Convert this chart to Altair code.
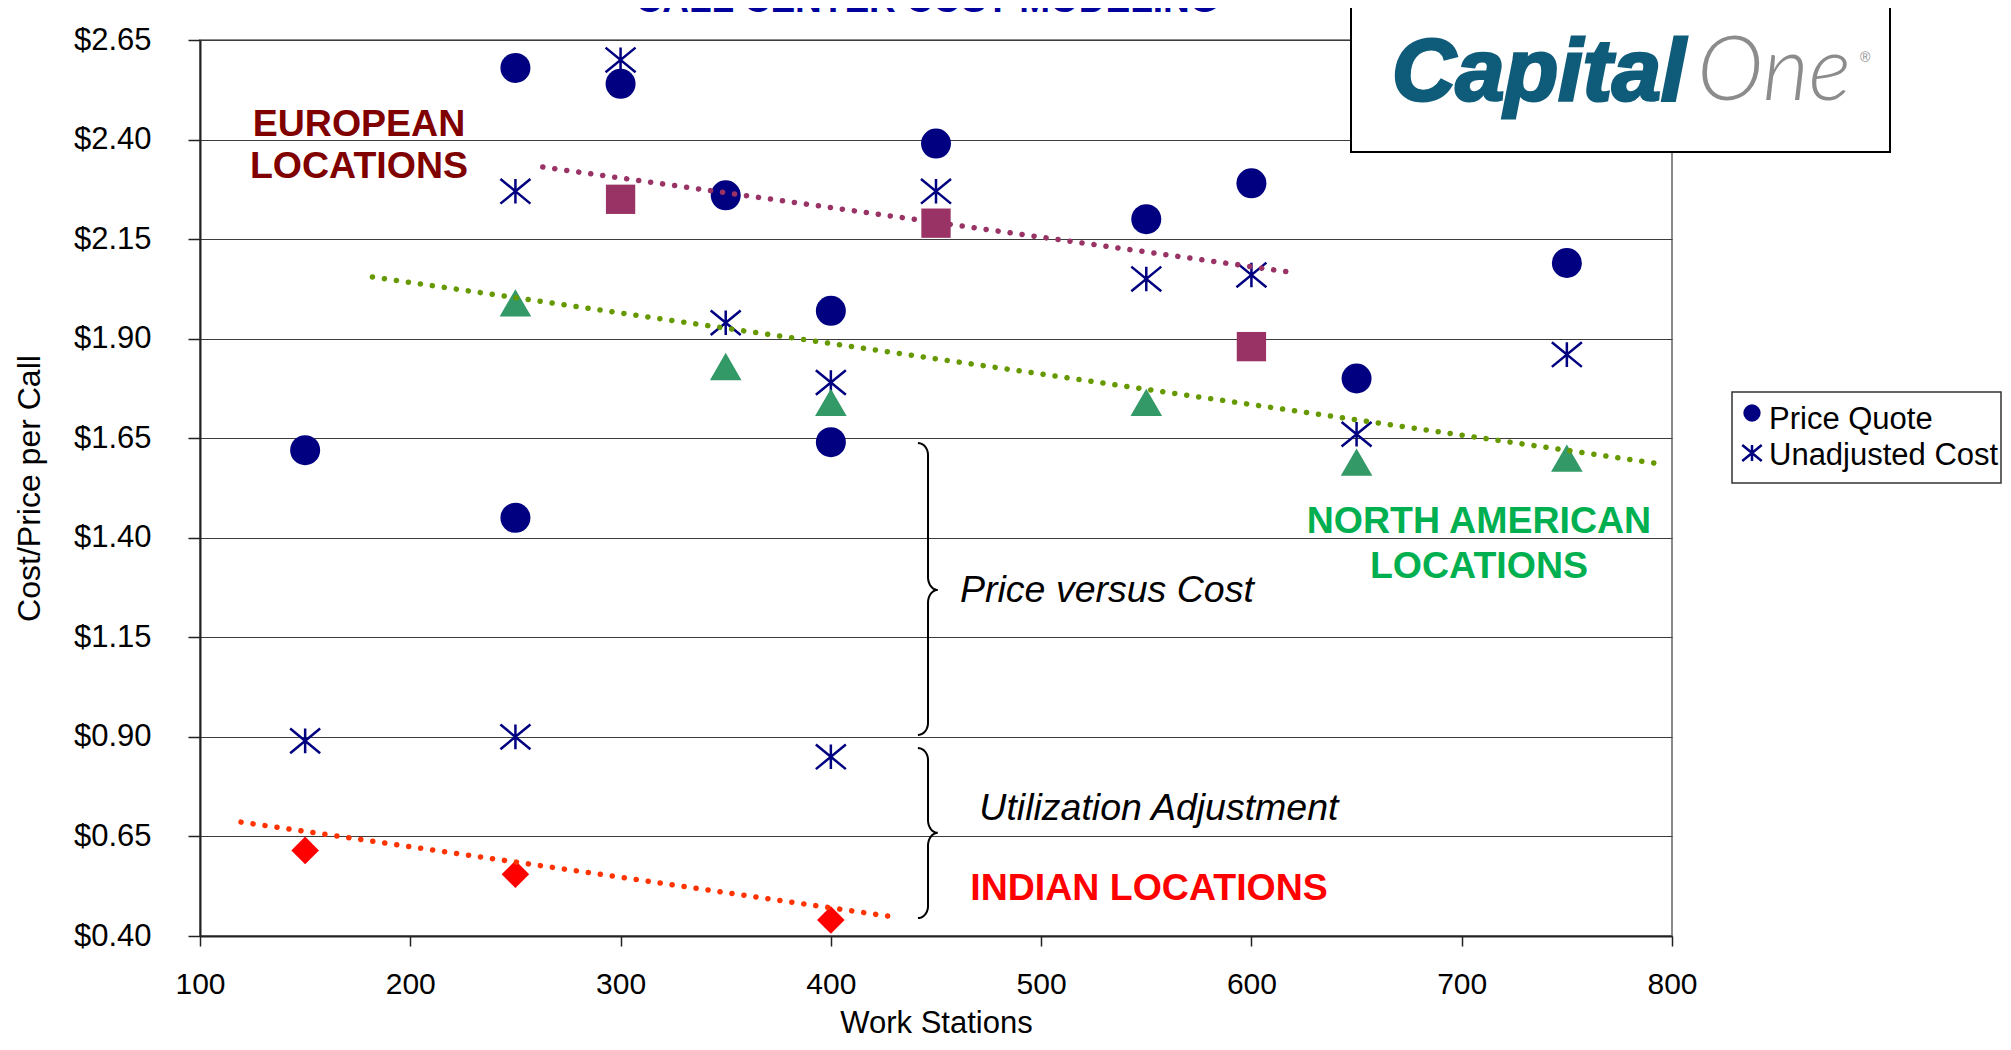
import math
import altair as alt
import pandas as pd

# ---------------- data ----------------
x_ticks = [100, 200, 300, 400, 500, 600, 700, 800]
y_ticks = [0.40, 0.65, 0.90, 1.15, 1.40, 1.65, 1.90, 2.15, 2.40, 2.65]

price_x = [150, 250, 250, 300, 350, 400, 400, 450, 550, 600, 650, 750]
price_y = [1.62, 2.58, 1.45, 2.54, 2.26, 1.97, 1.64, 2.39, 2.20, 2.29, 1.80, 2.09]

cost_x = [150, 250, 250, 300, 350, 400, 400, 450, 550, 600, 650, 750]
cost_y = [0.89, 2.27, 0.90, 2.60, 1.94, 1.79, 0.85, 2.27, 2.05, 2.06, 1.66, 1.86]

eu_x = [300, 450, 600]
eu_y = [2.25, 2.19, 1.88]

na_x = [250, 350, 400, 550, 650, 750]
na_y = [1.99, 1.83, 1.74, 1.74, 1.59, 1.60]

in_x = [150, 250, 400]
in_y = [0.615, 0.555, 0.44]

# dotted trend lines (end points)
eu_trend_x = [263, 621]
eu_trend_y = [2.331, 2.065]
na_trend_x = [182, 795]
na_trend_y = [2.055, 1.585]
in_trend_x = [119.5, 427]
in_trend_y = [0.686, 0.450]

# braces: x of stem / hook / tip, y of top / middle / bottom
brace_x = [446.2, 441.4, 450.8]
brace1_y = [1.638, 1.269, 0.905]
brace2_y = [0.872, 0.659, 0.445]

# annotations
ann_bold_text = ["EUROPEAN", "LOCATIONS", "NORTH AMERICAN", "LOCATIONS", "INDIAN LOCATIONS"]
ann_bold_x = [175.6, 175.6, 708.2, 708.2, 551.3]
ann_bold_y = [2.410, 2.303, 1.412, 1.299, 0.490]
ann_bold_col = ["#800000", "#800000", "#00B050", "#00B050", "#FF0000"]

ann_it_text = ["Price versus Cost", "Utilization Adjustment"]
ann_it_x = [531.3, 556.0]
ann_it_y = [1.239, 0.691]

legend_labels = ["Price Quote", "Unadjusted Cost"]

FONT = "Liberation Sans, Arial"
NAVY = "#000080"
ASTER = "M0,-0.82L0,0.82M-1,-0.82L1,0.82M-1,0.82L1,-0.82"

# ---------------- tables ----------------
price_df = pd.DataFrame({"ws": price_x, "val": price_y})
cost_df = pd.DataFrame({"ws": cost_x, "val": cost_y})
eu_df = pd.DataFrame({"ws": eu_x, "val": eu_y})
na_df = pd.DataFrame({"ws": na_x, "val": na_y})
in_df = pd.DataFrame({"ws": in_x, "val": in_y})

trend_df = pd.DataFrame({
    "ws": eu_trend_x + na_trend_x + in_trend_x,
    "val": eu_trend_y + na_trend_y + in_trend_y,
    "grp": ["eu"] * 2 + ["na"] * 2 + ["in"] * 2,
})


def brace_points(bx, by, bid, ry_end=0.030, ry_mid=0.032, n=10):
    xv, xl, xr = bx
    ytop, ymid, ybot = by
    rl = xv - xl
    rr = xr - xv
    pts = []
    for k in range(n + 1):
        t = math.pi / 2 * k / n
        pts.append((xl + rl * math.sin(t), ytop - ry_end + ry_end * math.cos(t)))
    for k in range(n + 1):
        t = math.pi / 2 * k / n
        pts.append((xr - rr * math.cos(t), ymid + ry_mid - ry_mid * math.sin(t)))
    for k in range(n, -1, -1):
        t = math.pi / 2 * k / n
        pts.append((xr - rr * math.cos(t), ymid - ry_mid + ry_mid * math.sin(t)))
    for k in range(n, -1, -1):
        t = math.pi / 2 * k / n
        pts.append((xl + rl * math.sin(t), ybot + ry_end - ry_end * math.cos(t)))
    return [{"ws": p[0], "val": p[1], "i": j, "b": bid} for j, p in enumerate(pts)]


brace_df = pd.DataFrame(brace_points(brace_x, brace1_y, 1) + brace_points(brace_x, brace2_y, 2))

bold_df = pd.DataFrame({"ws": ann_bold_x, "val": ann_bold_y, "t": ann_bold_text, "c": ann_bold_col})
it_df = pd.DataFrame({"ws": ann_it_x, "val": ann_it_y, "t": ann_it_text})
one_df = pd.DataFrame({"a": [0]})

# ---------------- encodings ----------------
xs = alt.Scale(domain=[100, 800], nice=False, zero=False)
ys = alt.Scale(domain=[0.40, 2.65], nice=False, zero=False)

X = alt.X("ws:Q", scale=xs, axis=alt.Axis(
    values=x_ticks, format="d", title="Work Stations", grid=False,
    labelFont=FONT, labelFontSize=30, labelColor="black", labelPadding=23,
    tickSize=10, tickColor="#222", tickWidth=1.5, domainColor="#222", domainWidth=2,
    titleFont=FONT, titleFontSize=31, titleFontWeight="normal", titleColor="black",
    titlePadding=9, labelFlush=False))
Y = alt.Y("val:Q", scale=ys, axis=alt.Axis(
    values=y_ticks, format="$.2f", title="Cost/Price per Call", grid=True,
    gridColor="#3c3c3c", gridWidth=1,
    labelFont=FONT, labelFontSize=31, labelColor="black", labelPadding=37,
    tickSize=12, tickColor="#222", tickWidth=1.5, domainColor="#222", domainWidth=2,
    titleFont=FONT, titleFontSize=32, titleFontWeight="normal", titleColor="black",
    titlePadding=27, labelFlush=False))

price = alt.Chart(price_df).mark_point(
    filled=True, shape="circle", size=900, color=NAVY, opacity=1).encode(x=X, y=Y)
cost = alt.Chart(cost_df).mark_point(
    filled=False, shape=ASTER, size=900, color=NAVY, strokeWidth=2.5, opacity=1).encode(x=X, y=Y)
eu = alt.Chart(eu_df).mark_point(filled=True, shape="square", size=860, color="#993366", opacity=1).encode(x=X, y=Y)
na = alt.Chart(na_df).mark_point(filled=True, shape="triangle-up", size=1000, color="#339966", opacity=1).encode(x=X, y=Y)
ind = alt.Chart(in_df).mark_point(filled=True, shape="diamond", size=760, color="#FF0000", opacity=1).encode(x=X, y=Y)

trend = alt.Chart(trend_df).mark_line(strokeDash=[0.1, 12], strokeCap="round", strokeWidth=5.5).encode(
    x=X, y=Y,
    color=alt.Color("grp:N", scale=alt.Scale(domain=["eu", "na", "in"], range=["#993366", "#669900", "#FF3300"]), legend=None),
    detail="grp:N",
)

braces = alt.Chart(brace_df).mark_line(color="black", strokeWidth=2).encode(
    x=X, y=Y, order="i:Q", detail="b:N")

bold_txt = alt.Chart(bold_df).mark_text(
    font=FONT, fontSize=37.5, fontWeight="bold", align="center", baseline="alphabetic"
).encode(x=X, y=Y, text="t:N", color=alt.Color("c:N", scale=None))

it_txt = alt.Chart(it_df).mark_text(
    font=FONT, fontSize=37.5, fontStyle="italic", align="center", baseline="alphabetic", color="black"
).encode(x=X, y=Y, text="t:N")

# chart title, cut off at the top edge as in the reference
title_txt = alt.Chart(one_df).mark_text(
    font=FONT, fontSize=37, fontWeight="bold", align="center", baseline="alphabetic", color="#00009C"
).encode(x=alt.value(727), y=alt.value(-28), text=alt.value("CALL CENTER COST MODELING"))

# logo (top right)
logo_box = alt.Chart(one_df).mark_rect(fill="white", stroke="black", strokeWidth=2).encode(
    x=alt.value(1151), x2=alt.value(1690), y=alt.value(-34), y2=alt.value(112))
logo_a = alt.Chart(one_df).mark_text(
    font=FONT, fontSize=88, fontWeight="bold", fontStyle="italic", align="left", baseline="alphabetic",
    color="#0F5B7A", stroke="#0F5B7A", strokeWidth=3).encode(
    x=alt.value(1192), y=alt.value(60), text=alt.value("Capital"))
logo_b = alt.Chart(one_df).mark_text(
    font="Lato", fontSize=90, fontWeight=300, fontStyle="italic", align="left", baseline="alphabetic",
    color="#8C8C8C").encode(x=alt.value(1497), y=alt.value(60), text=alt.value("One"))
logo_r = alt.Chart(one_df).mark_text(
    font=FONT, fontSize=14, align="left", baseline="alphabetic", color="#8C8C8C"
).encode(x=alt.value(1660), y=alt.value(22), text=alt.value("®"))

# legend (right of plot)
leg_box = alt.Chart(one_df).mark_rect(fill="white", stroke="#333", strokeWidth=1.5).encode(
    x=alt.value(1532), x2=alt.value(1801), y=alt.value(352), y2=alt.value(443))
leg_circle = alt.Chart(one_df).mark_point(filled=True, shape="circle", size=300, color=NAVY, opacity=1).encode(
    x=alt.value(1552), y=alt.value(373))
leg_aster = alt.Chart(one_df).mark_point(filled=False, shape=ASTER, size=380, color=NAVY, strokeWidth=2.5, opacity=1).encode(
    x=alt.value(1552), y=alt.value(413))
leg_t1 = alt.Chart(one_df).mark_text(font=FONT, fontSize=31, align="left", baseline="alphabetic", color="black").encode(
    x=alt.value(1569), y=alt.value(389), text=alt.value(legend_labels[0]))
leg_t2 = alt.Chart(one_df).mark_text(font=FONT, fontSize=31, align="left", baseline="alphabetic", color="black").encode(
    x=alt.value(1569), y=alt.value(425), text=alt.value(legend_labels[1]))

chart = alt.layer(
    price, cost, eu, na, ind, trend, braces, bold_txt, it_txt,
    logo_box, logo_a, logo_b, logo_r, title_txt,
    leg_box, leg_circle, leg_aster, leg_t1, leg_t2,
).properties(
    width=1472, height=896,
    autosize=alt.AutoSizeParams(type="none"),
    padding={"left": 192, "top": 32, "right": 330, "bottom": 105},
    background="white",
).configure_view(stroke="#8a8a8a", strokeWidth=2)

chart.save("out.html", embed_options={"renderer": "svg", "actions": False})
